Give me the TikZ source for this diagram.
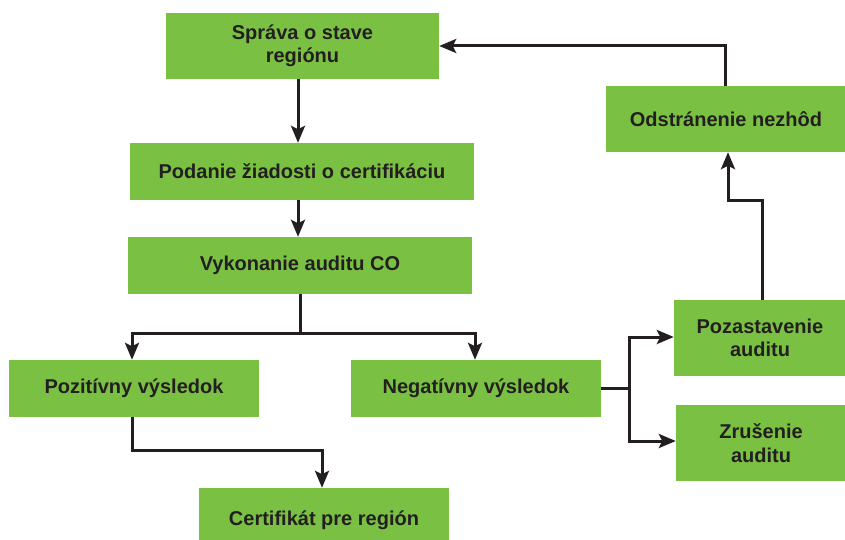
\documentclass[tikz,border=0pt]{standalone}
\usepackage{fontspec}
\setmainfont{Liberation Sans}
\usetikzlibrary{arrows.meta}
\definecolor{boxgreen}{HTML}{7AC143}
\definecolor{ink}{HTML}{231F20}
\begin{document}
\begin{tikzpicture}[x=1pt,y=-1pt,
  box/.style={fill=boxgreen,draw=none,inner sep=0pt,align=center,
    font=\fontsize{20}{23.5}\selectfont\bfseries,text=ink},
  arr/.style={draw=ink,line width=3pt,-{Stealth[length=17pt,width=14pt,inset=3.5pt]}},
  ln/.style={draw=ink,line width=3pt}]
\useasboundingbox (0,0) rectangle (845,540);
\node[box,minimum width=273,minimum height=66] (b1) at (302.5,46) {Správa o stave\\regiónu};
\node[box,minimum width=344,minimum height=57] (b2) at (302,171.5) {Podanie žiadosti o certifikáciu};
\node[box,minimum width=344,minimum height=57] (b3) at (300,265.5) {Vykonanie auditu CO};
\node[box,minimum width=250,minimum height=57] (b4) at (134,388.5) {Pozitívny výsledok};
\node[box,minimum width=250,minimum height=57] (b5) at (476,388.5) {Negatívny výsledok};
\node[box,minimum width=250,minimum height=64] (b6) at (324,520) {Certifikát pre región};
\node[box,minimum width=240,minimum height=66] (b7) at (726,119) {Odstránenie nezhôd};
\node[box,minimum width=172,minimum height=76] (b8) at (760,338) {Pozastavenie\\auditu};
\node[box,minimum width=170,minimum height=76] (b9) at (761,443) {Zrušenie\\auditu};
% connectors
\draw[arr] ([xshift=-4.5]b1.south) -- ([xshift=-4.5]b1.south |- b2.north);
\draw[arr] ([xshift=-4]b2.south) -- ([xshift=-4]b2.south |- b3.north);
\coordinate (s3) at ([yshift=-39]b3.south);
\draw[ln] (b3.south) -- (s3);
\draw[arr] (s3) -| ([xshift=-2]b4.north);
\draw[arr] (s3) -| ([xshift=-1]b5.north);
\coordinate (s4) at ([xshift=-2,yshift=-33]b4.south);
\draw[arr] ([xshift=-2]b4.south) -- (s4) -| ([xshift=-2]b6.north);
\coordinate (s5) at ([xshift=28]b5.east);
\draw[ln] (b5.east) -- (s5);
\draw[arr] (s5) |- ([yshift=1]b8.west);
\draw[arr] (s5) |- ([yshift=2]b9.west);
\coordinate (s8) at ([xshift=2,yshift=99]b8.north);
\draw[arr] ([xshift=2]b8.north) -- (s8) -| ([xshift=2]b7.south);
\draw[arr] ([xshift=-1]b7.north) |- (b1.east);
\end{tikzpicture}
\end{document}
